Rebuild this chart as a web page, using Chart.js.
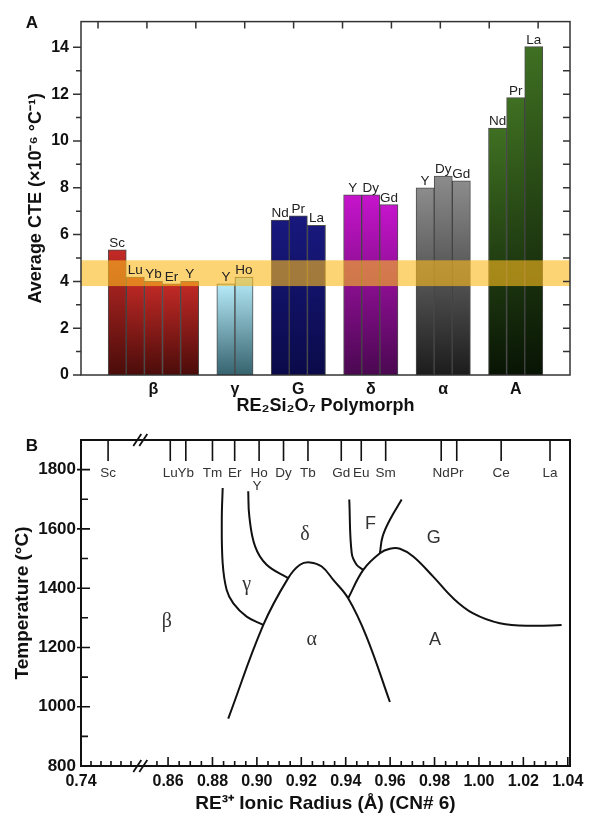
<!DOCTYPE html>
<html>
<head>
<meta charset="utf-8">
<script src="https://cdn.jsdelivr.net/npm/chart.js@4.4.1/dist/chart.umd.min.js"></script>
<style>
  html, body { margin: 0; padding: 0; background: #fff; }
  #wrapA { position: absolute; left: 0; top: 0; }
  #wrapB { position: absolute; left: 0; top: 420px; }
</style>
</head>
<body>
<div id="wrapA"><canvas id="cteChart" width="596" height="420"></canvas></div>
<div id="wrapB"><canvas id="phaseChart" width="596" height="396"></canvas></div>
<script>
const FONT = "'Liberation Sans', Arial, sans-serif";

// ---- Panel A: average CTE per polymorph ----
const polymorphs = ['β', 'γ', 'G', 'δ', 'α', 'A'];
const reElements = [
    ['Sc', 'Lu', 'Yb', 'Er', 'Y'],
    ['Y', 'Ho'],
    ['Nd', 'Pr', 'La'],
    ['Y', 'Dy', 'Gd'],
    ['Y', 'Dy', 'Gd'],
    ['Nd', 'Pr', 'La']
];
const cteValues = [
    [5.35, 4.18, 4.0, 3.9, 4.0],
    [3.9, 4.18],
    [6.62, 6.8, 6.4],
    [7.7, 7.7, 7.28],
    [8.0, 8.5, 8.3],
    [10.55, 11.85, 14.03]
];
const yTicksA = [0, 2, 4, 6, 8, 10, 12, 14];
const cteBand = [3.8, 4.9];
const groupColors = [
    ['#c42a26', '#4a0c0a'],
    ['#b8ecfa', '#35636e'],
    ['#18187e', '#0a0a4a'],
    ['#c614cc', '#4a0850'],
    ['#8c8c8c', '#1c1c1c'],
    ['#3f7022', '#081404']
];

// ---- Panel B: phase diagram ----
const radiusTicks = [0.86, 0.88, 0.90, 0.92, 0.94, 0.96, 0.98, 1.00, 1.02, 1.04];
const tempTicks = [800, 1000, 1200, 1400, 1600, 1800];
const topElements = ['Sc', 'Lu', 'Yb', 'Tm', 'Er', 'Ho', 'Dy', 'Tb', 'Gd', 'Eu', 'Sm', 'Nd', 'Pr', 'Ce', 'La'];
const topRadii = [0.745, 0.861, 0.868, 0.880, 0.890, 0.901, 0.912, 0.923, 0.938, 0.947, 0.958, 0.983, 0.990, 1.010, 1.032];
const yttriumRadius = 0.900;

const betaGamma = [[0.8846, 1738], [0.8842, 1631], [0.8846, 1484], [0.8864, 1394], [0.8894, 1349], [0.8954, 1304], [0.9029, 1276]];
const gammaDelta = [[0.8961, 1727], [0.8966, 1642], [0.8992, 1541], [0.9044, 1479], [0.9141, 1434]];
const alphaDome = [[0.8871, 960], [0.9029, 1276], [0.9141, 1434], [0.9194, 1479], [0.9239, 1487], [0.9292, 1473],
                   [0.9344, 1428], [0.9411, 1366], [0.9494, 1236], [0.9599, 1016]];
const deltaF = [[0.9416, 1699], [0.9427, 1518], [0.9449, 1479], [0.9479, 1462]];
const gDome = [[0.9411, 1366], [0.9479, 1462], [0.9554, 1518], [0.9599, 1533], [0.9644, 1533], [0.9704, 1507],
               [0.9794, 1439], [0.9884, 1366], [0.9974, 1315], [1.0094, 1282], [1.0244, 1273], [1.0372, 1276]];
const fG = [[0.9554, 1518], [0.9566, 1574], [0.9599, 1631], [0.9652, 1699]];

const phaseNames = ['β', 'γ', 'δ', 'F', 'G', 'α', 'A'];
const phaseRadius = [0.8594, 0.8954, 0.9217, 0.9512, 0.9797, 0.9247, 0.9802];
const phaseTemp = [1287, 1411, 1580, 1617, 1570, 1225, 1225];

// broken radius axis: the Sc side is squeezed into the left stub
const X_MIN = 0.8208;
const X_MAX = 1.041;
const AXIS_BREAK = 0.8475;
const toAxis = r => r < 0.8 ? X_MIN + (r - 0.74) * 2.44 : r;

// flatten bars onto a slot axis, one empty slot between polymorphs
const barPoints = [];
const groupCenters = [];
let slot = 2;
cteValues.forEach((vals, g) => {
    const first = slot;
    vals.forEach((v, i) => {
        barPoints.push({ x: slot, y: v, g: g, re: reElements[g][i] });
        slot++;
    });
    groupCenters.push((first + slot - 1) / 2);
    slot++;
});
const slotMax = slot;
const topTickStart = 0.94;
const topTickStep = 2.7;

const barGradient = (ctx) => {
    const chart = ctx.chart;
    const raw = ctx.raw;
    if (!chart.chartArea || !raw) return '#888';
    const y = chart.scales.y;
    const grad = chart.ctx.createLinearGradient(0, y.getPixelForValue(raw.y), 0, y.getPixelForValue(0));
    grad.addColorStop(0, groupColors[raw.g][0]);
    grad.addColorStop(1, groupColors[raw.g][1]);
    return grad;
};

const bandPlugin = {
    id: 'cteBand',
    afterDatasetsDraw(chart) {
        const { ctx, chartArea: a, scales: { y } } = chart;
        const top = y.getPixelForValue(cteBand[1]);
        const bottom = y.getPixelForValue(cteBand[0]);
        ctx.save();
        ctx.fillStyle = 'rgba(250, 185, 30, 0.62)';
        ctx.fillRect(a.left, top, a.right - a.left, bottom - top);
        ctx.restore();
    }
};

const barLabels = {
    id: 'barLabels',
    afterDatasetsDraw(chart) {
        const { ctx } = chart;
        const meta = chart.getDatasetMeta(0);
        ctx.save();
        ctx.font = `13.5px ${FONT}`;
        ctx.fillStyle = '#222';
        ctx.textAlign = 'center';
        ctx.textBaseline = 'bottom';
        meta.data.forEach((bar, i) => {
            ctx.fillText(barPoints[i].re, bar.x, bar.y);
        });
        ctx.restore();
    }
};

const frameA = {
    id: 'frameA',
    afterDraw(chart) {
        const { ctx, chartArea: a, scales: { x, y } } = chart;
        ctx.save();
        ctx.strokeStyle = '#333';
        ctx.lineWidth = 1.5;
        ctx.strokeRect(a.left, a.top, a.right - a.left, a.bottom - a.top);
        ctx.beginPath();
        for (let v = 0; v <= 14; v++) {
            const py = y.getPixelForValue(v);
            const len = v % 2 === 0 ? 8 : 5;
            ctx.moveTo(a.left - len, py);
            ctx.lineTo(a.left, py);
            if (v > 0) {
                ctx.moveTo(a.right, py);
                ctx.lineTo(a.right - 7, py);
            }
        }
        for (let i = 0; i < 10; i++) {
            const px = x.getPixelForValue(topTickStart + i * topTickStep);
            ctx.moveTo(px, a.top);
            ctx.lineTo(px, a.top + 7);
        }
        ctx.stroke();
        ctx.font = `bold 17px ${FONT}`;
        ctx.fillStyle = '#111';
        ctx.textAlign = 'center';
        ctx.textBaseline = 'middle';
        ctx.fillText('A', 32, 23);
        ctx.restore();
    }
};

const frameB = {
    id: 'frameB',
    afterDraw(chart) {
        const { ctx, chartArea: a, scales: { x, y } } = chart;
        ctx.save();
        ctx.strokeStyle = '#111';
        ctx.lineWidth = 2;
        ctx.strokeRect(a.left, a.top, a.right - a.left, a.bottom - a.top);

        ctx.lineWidth = 1.6;
        ctx.beginPath();
        // temperature ticks
        for (let t = 900; t <= 1800; t += 100) {
            const py = y.getPixelForValue(t);
            const major = t % 200 === 0;
            ctx.moveTo(a.left - (major ? 4 : 0), py);
            ctx.lineTo(a.left + (major ? 9 : 7), py);
        }
        // radius ticks, left stub then main part
        for (let i = 1; i <= 5; i++) {
            const px = x.getPixelForValue(X_MIN + i * 0.0045);
            ctx.moveTo(px, a.bottom);
            ctx.lineTo(px, a.bottom - 5);
        }
        for (let k = 171; k <= 208; k++) {
            const px = x.getPixelForValue(k * 0.005);
            ctx.moveTo(px, a.bottom);
            ctx.lineTo(px, a.bottom - (k % 4 === 0 ? 9 : 5));
        }
        // element ticks along the top
        topRadii.forEach(r => {
            const px = x.getPixelForValue(toAxis(r));
            ctx.moveTo(px, a.top);
            ctx.lineTo(px, a.top + 21);
        });
        ctx.stroke();

        // axis break marks
        const bx = x.getPixelForValue(AXIS_BREAK);
        ctx.lineWidth = 1.8;
        ctx.beginPath();
        [a.top, a.bottom].forEach(py => {
            [-3, 3].forEach(dx => {
                ctx.moveTo(bx + dx - 4, py + 6);
                ctx.lineTo(bx + dx + 4, py - 6);
            });
        });
        ctx.stroke();

        // element names
        ctx.fillStyle = '#333';
        ctx.font = `13.5px ${FONT}`;
        ctx.textAlign = 'center';
        ctx.textBaseline = 'middle';
        topElements.forEach((el, i) => {
            ctx.fillText(el, x.getPixelForValue(toAxis(topRadii[i])), a.top + 33);
        });
        ctx.fillText('Y', x.getPixelForValue(yttriumRadius), a.top + 46);

        // phase field names
        phaseNames.forEach((name, i) => {
            const greek = /[α-ω]/.test(name);
            ctx.font = greek ? `20px 'Liberation Serif', serif` : `18px ${FONT}`;
            ctx.fillText(name, x.getPixelForValue(phaseRadius[i]), y.getPixelForValue(phaseTemp[i]));
        });

        ctx.font = `bold 17px ${FONT}`;
        ctx.fillStyle = '#111';
        ctx.fillText('B', 32, 26);
        ctx.restore();
    }
};

const cteChart = new Chart(document.getElementById('cteChart'), {
    type: 'bar',
    data: {
        datasets: [{
            data: barPoints,
            backgroundColor: barGradient,
            borderColor: 'rgba(45, 45, 45, 0.85)',
            borderWidth: 1,
            barPercentage: 1,
            categoryPercentage: 1
        }]
    },
    options: {
        responsive: false,
        animation: false,
        devicePixelRatio: 1,
        layout: { padding: { top: 14, right: 26, left: 0, bottom: 0 } },
        plugins: { legend: { display: false }, tooltip: { enabled: false } },
        scales: {
            x: {
                type: 'linear',
                offset: false,
                min: 0,
                max: slotMax,
                grid: { display: false, drawTicks: false, offset: false },
                border: { display: false },
                afterBuildTicks: s => { s.ticks = groupCenters.map(v => ({ value: v })); },
                ticks: {
                    callback: (v, i) => polymorphs[i],
                    autoSkip: false,
                    maxRotation: 0,
                    padding: 5,
                    color: '#111',
                    font: { family: FONT, size: 16, weight: 'bold' }
                },
                title: {
                    display: true,
                    text: 'RE₂Si₂O₇ Polymorph',
                    color: '#111',
                    padding: { top: 0, bottom: 3 },
                    font: { family: FONT, size: 18, weight: 'bold' }
                },
                afterFit: s => { s.height = 45; }
            },
            y: {
                min: 0,
                max: 15.1,
                grid: { display: false, drawTicks: false },
                border: { display: false },
                afterBuildTicks: s => { s.ticks = yTicksA.map(v => ({ value: v })); },
                ticks: {
                    padding: 12,
                    color: '#111',
                    font: { family: FONT, size: 16, weight: 'bold' }
                },
                title: {
                    display: true,
                    text: 'Average CTE (×10⁻⁶ °C⁻¹)',
                    color: '#111',
                    padding: { top: 25, bottom: 0 },
                    font: { family: FONT, size: 18, weight: 'bold' }
                },
                afterFit: s => { s.width = 81; }
            }
        }
    },
    plugins: [bandPlugin, barLabels, frameA]
});

const boundaries = [betaGamma, gammaDelta, alphaDome, deltaF, gDome, fG];

const phaseChart = new Chart(document.getElementById('phaseChart'), {
    type: 'scatter',
    data: {
        datasets: boundaries.map(b => ({
            data: b.map(p => ({ x: toAxis(p[0]), y: p[1] })),
            showLine: true,
            tension: 0.4,
            borderColor: '#111',
            borderWidth: 2,
            pointRadius: 0,
            fill: false
        }))
    },
    options: {
        responsive: false,
        animation: false,
        devicePixelRatio: 1,
        layout: { padding: { top: 20, right: 26, left: 0, bottom: 0 } },
        plugins: { legend: { display: false }, tooltip: { enabled: false } },
        scales: {
            x: {
                type: 'linear',
                min: X_MIN,
                max: X_MAX,
                grid: { display: false, drawTicks: false },
                border: { display: false },
                afterBuildTicks: s => {
                    s.ticks = [{ value: X_MIN }].concat(radiusTicks.map(v => ({ value: v })));
                },
                ticks: {
                    callback: v => v === X_MIN ? '0.74' : v.toFixed(2),
                    autoSkip: false,
                    maxRotation: 0,
                    padding: 6,
                    color: '#111',
                    font: { family: FONT, size: 16, weight: 'bold' }
                },
                title: {
                    display: true,
                    text: 'RE³⁺ Ionic Radius (Å) (CN# 6)',
                    color: '#111',
                    padding: { top: 0, bottom: 1 },
                    font: { family: FONT, size: 19, weight: 'bold' }
                },
                afterFit: s => { s.height = 50; }
            },
            y: {
                min: 800,
                max: 1900,
                grid: { display: false, drawTicks: false },
                border: { display: false },
                afterBuildTicks: s => { s.ticks = tempTicks.map(v => ({ value: v })); },
                ticks: {
                    callback: v => String(v),
                    padding: 5,
                    color: '#111',
                    font: { family: FONT, size: 17, weight: 'bold' }
                },
                title: {
                    display: true,
                    text: 'Temperature (°C)',
                    color: '#111',
                    padding: { top: 11, bottom: 0 },
                    font: { family: FONT, size: 19, weight: 'bold' }
                },
                afterFit: s => { s.width = 81; }
            }
        }
    },
    plugins: [frameB]
});
</script>
</body>
</html>
